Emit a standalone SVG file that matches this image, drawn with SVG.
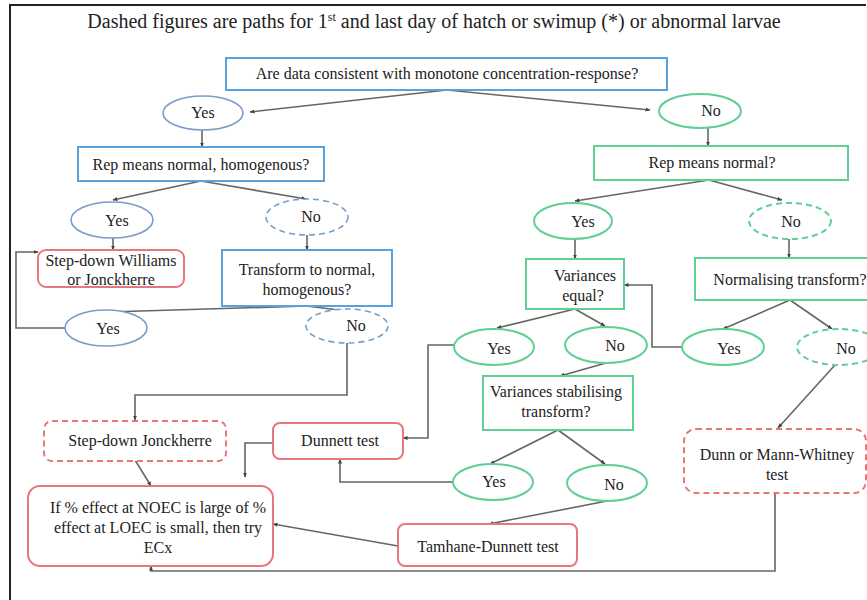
<svg xmlns="http://www.w3.org/2000/svg" width="867" height="600" viewBox="0 0 867 600">
<defs>
<marker id="ah" viewBox="0 0 10 10" refX="9" refY="5" markerWidth="5" markerHeight="5" orient="auto" markerUnits="userSpaceOnUse">
<path d="M0,1 L10,5 L0,9 z" fill="#444"/>
</marker>
<style>
text{font-family:'Liberation Serif','DejaVu Serif',serif;font-size:16px;fill:#222;text-anchor:middle}
.title{font-size:20px}
.bb{fill:#fff;stroke:#5aa2dc;stroke-width:2}
.be{fill:#fff;stroke:#7a9cc8;stroke-width:1.6}
.gb{fill:#fff;stroke:#5fcf95;stroke-width:2}
.rb{fill:#fff;stroke:#e8767a;stroke-width:2}
.d{stroke-dasharray:6,4}
.c{fill:none;stroke:#666;stroke-width:1.6}
.a{marker-end:url(#ah)}
</style>
</defs>
<rect width="867" height="600" fill="#fff"/>
<path d="M10,600 V5 H866" fill="none" stroke="#222" stroke-width="2"/>
<text class="title" x="434" y="28">Dashed figures are paths for 1<tspan font-size="12" dy="-7">st</tspan><tspan dy="7"> and last day of hatch or swimup (*) or abnormal larvae</tspan></text>

<g id="connectors">
<path class="c a" d="M447,90 L250,112"/>
<path class="c a" d="M447,90 L650,110"/>
<path class="c a" d="M202,129 V147"/>
<path class="c a" d="M708,128 V146"/>
<path class="c a" d="M201,181 L113,200"/>
<path class="c a" d="M201,181 L306,199"/>
<path class="c a" d="M113,238 V250"/>
<path class="c a" d="M307,235 V250"/>
<path class="c a" d="M307,306 L108,312"/>
<path class="c a" d="M307,306 L346,311"/>
<path class="c a" d="M65,328 H16 V252 H38"/>
<path class="c a" d="M347,343 V395 H135 V420"/>
<path class="c a" d="M135,460 L151,486"/>
<path class="c a" d="M273,443 H245 V477"/>
<path class="c a" d="M455,345 H428 V438 H403"/>
<path class="c a" d="M575,239 V259"/>
<path class="c a" d="M709,180 L575,201"/>
<path class="c a" d="M709,180 L782,200"/>
<path class="c a" d="M789,239 V258"/>
<path class="c a" d="M575,309 L497,328"/>
<path class="c a" d="M575,309 L605,326"/>
<path class="c a" d="M606,363 L560,376"/>
<path class="c a" d="M558,430 L490,464"/>
<path class="c a" d="M558,430 L605,464"/>
<path class="c a" d="M453,482 H340 V459"/>
<path class="c a" d="M607,501 L489,524"/>
<path class="c a" d="M398,546 L273,524"/>
<path class="c a" d="M790,300 L723,329"/>
<path class="c a" d="M790,300 L832,329"/>
<path class="c a" d="M682,347 H652 V285 H624"/>
<path class="c a" d="M835,365 L778,428"/>
<path class="c a" d="M775,493 V571 H151 V566"/>
</g>

<g id="q1"><rect class="bb" x="226" y="58" width="441" height="32"/><text x="447" y="79">Are data consistent with monotone concentration-response?</text></g>
<g id="yes1"><ellipse class="be" cx="203" cy="113" rx="40" ry="17"/><text x="203" y="118">Yes</text></g>
<g id="no1"><ellipse class="gb" cx="700" cy="111" rx="41" ry="17"/><text x="711" y="116">No</text></g>

<g id="q2"><rect class="bb" x="78" y="147" width="246" height="34"/><text x="201" y="170">Rep means normal, homogenous?</text></g>
<g id="yes2"><ellipse class="be" cx="112" cy="220" rx="41" ry="18"/><text x="117" y="226">Yes</text></g>
<g id="no2"><ellipse class="be d" cx="307" cy="217" rx="41" ry="18"/><text x="311" y="222">No</text></g>
<g id="williams"><rect class="rb" x="38" y="250" width="146" height="37" rx="8"/><text x="111" y="266">Step-down Williams</text><text x="111" y="285">or Jonckherre</text></g>
<g id="q3"><rect class="bb" x="222" y="250" width="170" height="56"/><text x="307" y="275">Transform to normal,</text><text x="307" y="295">homogenous?</text></g>
<g id="yes3"><ellipse class="be" cx="106" cy="328" rx="41" ry="18"/><text x="108" y="334">Yes</text></g>
<g id="no3"><ellipse class="be d" cx="347" cy="326" rx="41" ry="17"/><text x="356" y="331">No</text></g>
<g id="jonck"><rect class="rb d" x="44" y="421" width="182" height="40" rx="8"/><text x="140" y="446">Step-down Jonckherre</text></g>
<g id="ecx"><rect class="rb" x="28" y="486" width="245" height="80" rx="12"/><text x="158" y="513">If % effect at NOEC is large of %</text><text x="158" y="533">effect at LOEC is small, then try</text><text x="158" y="553">ECx</text></g>
<g id="dunnett"><rect class="rb" x="273" y="423" width="130" height="36" rx="7"/><text x="340" y="446">Dunnett test</text></g>

<g id="q4"><rect class="gb" x="594" y="146" width="254" height="34"/><text x="712" y="168">Rep means normal?</text></g>
<g id="yes5"><ellipse class="gb" cx="573" cy="221" rx="39" ry="18"/><text x="583" y="227">Yes</text></g>
<g id="no5"><ellipse class="gb d" cx="790" cy="221" rx="41" ry="18"/><text x="791" y="227">No</text></g>
<g id="q5"><rect class="gb" x="526" y="259" width="98" height="50"/><text x="585" y="281">Variances</text><text x="583" y="301">equal?</text></g>
<g id="q6"><rect class="gb" x="695" y="258" width="180" height="42"/><text x="790" y="285">Normalising transform?</text></g>
<g id="yes4"><ellipse class="gb" cx="494" cy="347" rx="40" ry="18"/><text x="499" y="354">Yes</text></g>
<g id="no4"><ellipse class="gb" cx="606" cy="345" rx="41" ry="18"/><text x="615" y="351">No</text></g>
<g id="yes7"><ellipse class="gb" cx="723" cy="347" rx="41" ry="18"/><text x="729" y="354">Yes</text></g>
<g id="no7"><ellipse class="gb d" cx="839" cy="347" rx="42" ry="18"/><text x="846" y="354">No</text></g>
<g id="q7"><rect class="gb" x="483" y="376" width="150" height="54"/><text x="556" y="397">Variances stabilising</text><text x="556" y="417">transform?</text></g>
<g id="yes6"><ellipse class="gb" cx="493" cy="482" rx="40" ry="18"/><text x="494" y="487">Yes</text></g>
<g id="no6"><ellipse class="gb" cx="607" cy="483" rx="40" ry="18"/><text x="614" y="490">No</text></g>
<g id="tamhane"><rect class="rb" x="398" y="524" width="179" height="42" rx="7"/><text x="488" y="552">Tamhane-Dunnett test</text></g>
<g id="dunn"><rect class="rb d" x="684" y="429" width="182" height="64" rx="12"/><text x="777" y="460">Dunn or Mann-Whitney</text><text x="777" y="480">test</text></g>
</svg>
